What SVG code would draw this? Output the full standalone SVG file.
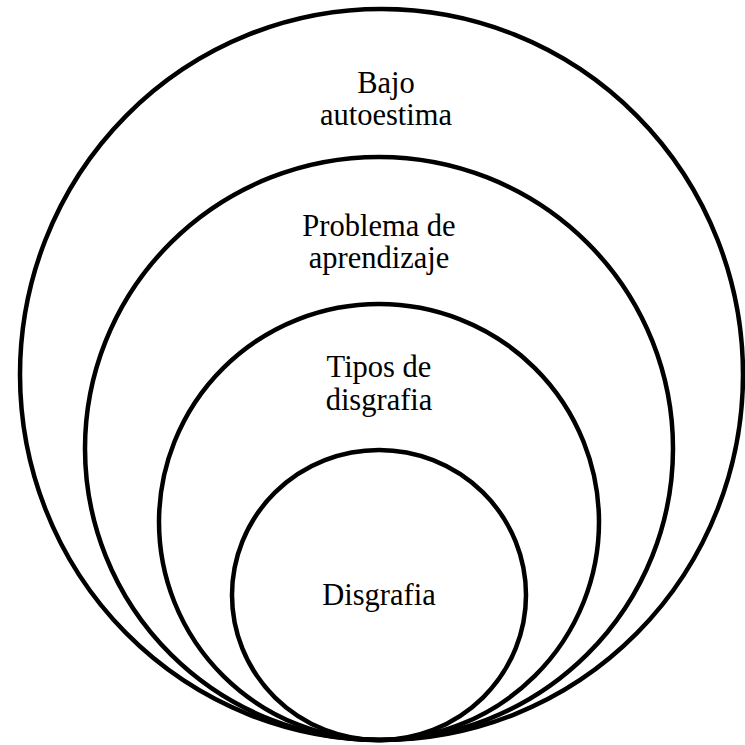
<svg xmlns="http://www.w3.org/2000/svg" width="745" height="745" viewBox="0 0 745 745">
<style>
.ring{fill:none;stroke:#000;stroke-width:4.5}
.lbl{font-family:"Liberation Serif","Times New Roman",serif;font-size:30.5px;fill:#000;text-anchor:middle}
</style>
<rect width="745" height="745" fill="#fff"/>
<g id="bajo-autoestima">
<ellipse class="ring" cx="381.5" cy="374.5" rx="361.5" ry="365.5"/>
<text class="lbl" x="386" y="93">Bajo</text>
<text class="lbl" x="386" y="125">autoestima</text>
</g>
<g id="problema-aprendizaje">
<ellipse class="ring" cx="379" cy="448.5" rx="294" ry="291.5"/>
<text class="lbl" x="379" y="236">Problema de</text>
<text class="lbl" x="379" y="268">aprendizaje</text>
</g>
<g id="tipos-disgrafia">
<ellipse class="ring" cx="379" cy="522" rx="220" ry="218"/>
<text class="lbl" x="379" y="377">Tipos de</text>
<text class="lbl" x="379" y="410">disgrafia</text>
</g>
<g id="disgrafia">
<ellipse class="ring" cx="379" cy="595" rx="147" ry="145"/>
<text class="lbl" x="379" y="605">Disgrafia</text>
</g>
<g id="connectors"/>
</svg>
